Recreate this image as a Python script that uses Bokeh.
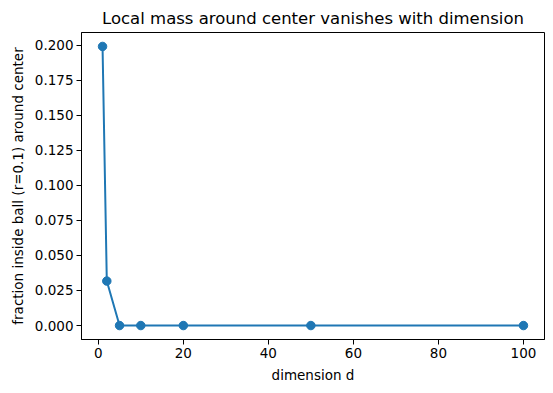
from bokeh.plotting import figure
from bokeh.models import FixedTicker, PrintfTickFormatter, Range1d
from bokeh.embed import file_html
from bokeh.resources import INLINE

dims = [1, 2, 5, 10, 20, 50, 100]
fractions = [0.199, 0.0317, 0.0, 0.0, 0.0, 0.0, 0.0]
x_ticks = [0, 20, 40, 60, 80, 100]
y_ticks = [0.0, 0.025, 0.05, 0.075, 0.1, 0.125, 0.15, 0.175, 0.2]

FONT = "DejaVu Sans"
COLOR = "#1f77b4"

p = figure(width=545, height=385, output_backend="svg", toolbar_location=None,
           title="Local mass around center vanishes with dimension",
           x_range=Range1d(-3.95, 104.95), y_range=Range1d(-0.00995, 0.20895),
           min_border_left=81, min_border_right=1, min_border_top=32, min_border_bottom=44)

p.line(dims, fractions, line_color=COLOR, line_width=2)
p.scatter(dims, fractions, size=8.5, fill_color=COLOR, line_color=COLOR)

p.title.text_font = FONT
p.title.text_font_size = "16.5px"
p.title.text_font_style = "normal"
p.title.align = "center"
p.title.text_color = "black"

p.xgrid.visible = False
p.ygrid.visible = False
p.outline_line_color = "black"
p.outline_line_width = 1
p.outline_line_alpha = 1

p.xaxis.ticker = FixedTicker(ticks=x_ticks)
p.yaxis.ticker = FixedTicker(ticks=y_ticks)
p.yaxis.formatter = PrintfTickFormatter(format="%.3f")
p.xaxis.axis_label = "dimension d"
p.yaxis.axis_label = "fraction inside ball (r=0.1) around center"

for ax in (p.xaxis, p.yaxis):
    ax.axis_label_text_font = FONT
    ax.axis_label_text_font_size = "13.5px"
    ax.axis_label_text_font_style = "normal"
    ax.axis_label_text_color = "black"
    ax.major_label_text_font = FONT
    ax.major_label_text_font_size = "13.5px"
    ax.major_label_text_color = "black"
    ax.major_tick_out = 5
    ax.major_tick_in = 0
    ax.minor_tick_out = 0
    ax.minor_tick_in = 0
    ax.major_tick_line_color = "black"
    ax.axis_line_color = "black"
    ax.axis_label_standoff = 6
    ax.major_label_standoff = 3

open("out.html", "w").write(file_html(p, INLINE))
